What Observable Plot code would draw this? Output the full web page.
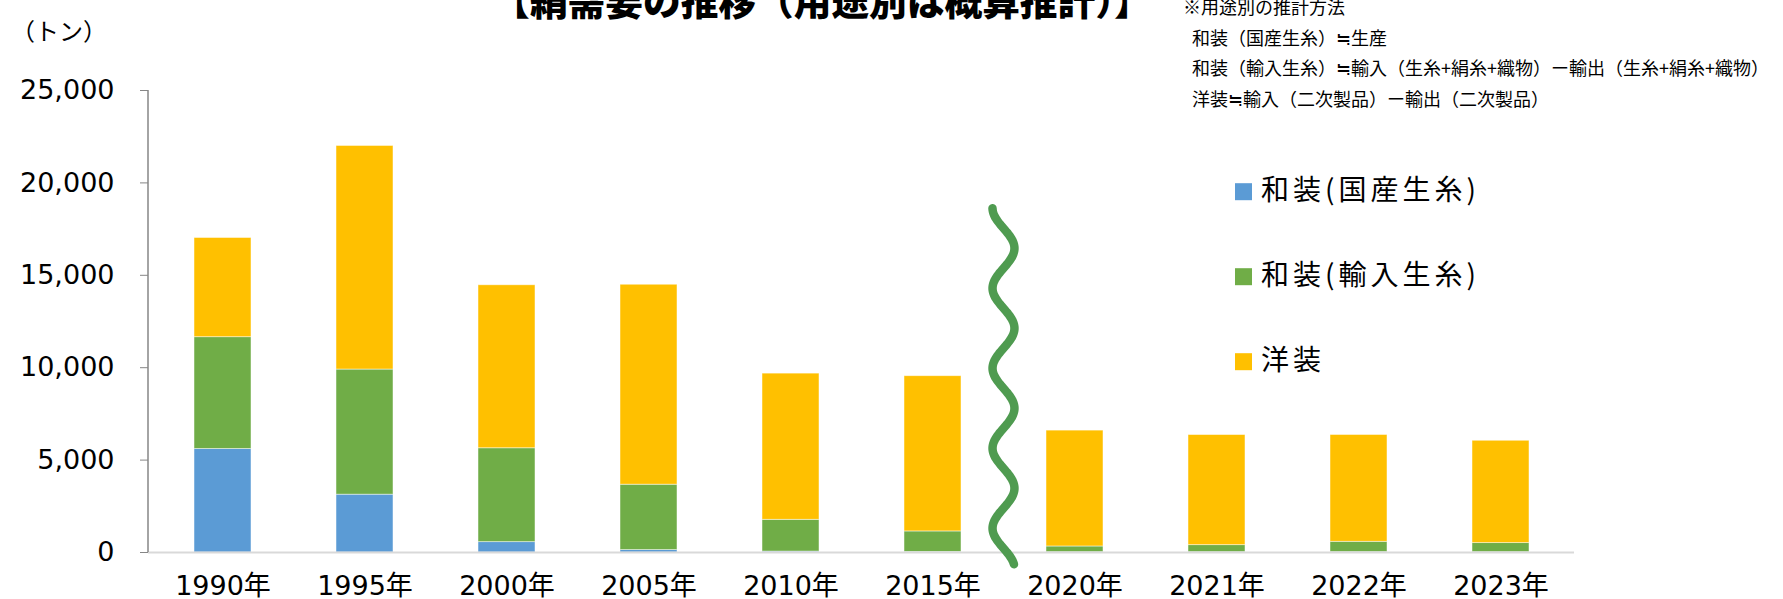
<!DOCTYPE html>
<html>
<head>
<meta charset="utf-8">
<script src="https://cdn.jsdelivr.net/npm/d3@7"></script>
<script src="https://cdn.jsdelivr.net/npm/@observablehq/plot@0.6"></script>
<style>
  html, body { margin: 0; padding: 0; background: #fff; }
  #chart { width: 1783px; height: 599px; overflow: hidden; }
</style>
</head>
<body>
<div id="chart"></div>
<script>
// ---- data ----
const years = ["1990年", "1995年", "2000年", "2005年", "2010年", "2015年", "2020年", "2021年", "2022年", "2023年"];
const seriesNames = ["和装(国産生糸)", "和装(輸入生糸)", "洋装"];
const domesticSilk = [5600, 3130, 560, 130, 50, 30, 16, 17, 20, 17];        // 和装(国産生糸)
const importedSilk = [6050, 6770, 5080, 3540, 1720, 1110, 310, 380, 560, 490]; // 和装(輸入生糸)
const westernWear  = [5370, 12100, 8820, 10820, 7910, 8400, 6270, 5960, 5780, 5540]; // 洋装
const yTicks = [0, 5000, 10000, 15000, 20000, 25000];
const yMax = 25000;
const titleText = "【絹需要の推移（用途別は概算推計）】";
const unitLabel = "（トン）";
const noteLines = [
  "※用途別の推計方法",
  "和装（国産生糸）≒生産",
  "和装（輸入生糸）≒輸入（生糸+絹糸+織物）ー輸出（生糸+絹糸+織物）",
  "洋装≒輸入（二次製品）ー輸出（二次製品）"
];
const colors = ["#5B9BD5", "#70AD47", "#FFC000"];
// break marker (wavy line) between 2015 and 2020, extent in data units
const breakAfter = "2015年", breakBefore = "2020年";
const waveTop = 18600, waveBottom = -700;

// ---- table ----
const seriesValues = [domesticSilk, importedSilk, westernWear];
const rows = seriesNames.flatMap((s, i) =>
  years.map((y, j) => ({year: y, series: s, value: seriesValues[i][j]})));

const W = 1783, H = 599;
const latinFont = '"DejaVu Sans", "Noto Sans CJK JP", sans-serif';
const cjkFont = '"Noto Sans CJK JP", "Noto Sans", sans-serif';

const chart = Plot.plot({
  width: W, height: H,
  marginLeft: 148, marginRight: 209, marginTop: 90, marginBottom: 47,
  style: {fontFamily: latinFont, fontSize: "27px", color: "#000", background: "#fff", overflow: "visible"},
  x: {domain: years, paddingInner: 0.6, paddingOuter: 0.3, label: null},
  y: {domain: [0, yMax], label: null},
  color: {domain: seriesNames, range: colors},
  marks: [
    Plot.barY(rows, {x: "year", y: "value", fill: "series", z: "series",
      stroke: "#ffffff", strokeWidth: 0.8, strokeOpacity: 0.6}),
    Plot.ruleY([0], {stroke: "#d9d9d9", strokeWidth: 2}),
    Plot.axisY({ticks: yTicks, tickFormat: d3.format(","), tickSize: 8, tickPadding: 26,
      stroke: "#868686", fill: "#000", label: null}),
    Plot.axisX({tickSize: 0, tickPadding: 23, fill: "#000", label: null})
  ]
});
document.getElementById("chart").appendChild(chart);

const sx = chart.scale("x"), sy = chart.scale("y");
const svg = d3.select(chart);

// y axis line
svg.append("line")
  .attr("x1", sx.range[0]).attr("x2", sx.range[0])
  .attr("y1", sy.apply(yMax)).attr("y2", sy.apply(0))
  .attr("stroke", "#868686").attr("stroke-width", 1.5);

// wavy break marker
{
  const cx = (sx.apply(breakAfter) + sx.apply(breakBefore)) / 2 + sx.bandwidth / 2;
  const y0 = sy.apply(waveTop), y1 = sy.apply(waveBottom);
  const amp = 11, period = 80;
  const pts = d3.range(y0, y1 + 0.01, 2).map(py => [cx - amp * Math.cos(2 * Math.PI * (py - y0) / period), py]);
  svg.append("path")
    .attr("d", d3.line().curve(d3.curveBasis)(pts))
    .attr("fill", "none").attr("stroke", "#4f9b50").attr("stroke-width", 8.5)
    .attr("stroke-linecap", "round").attr("stroke-linejoin", "round");
}

// title
svg.append("text").text(titleText)
  .attr("x", 822).attr("y", 15).attr("text-anchor", "middle")
  .attr("font-family", cjkFont).attr("font-weight", 900).attr("font-size", 37.7).attr("fill", "#000");

// unit label
svg.append("text").text(unitLabel)
  .attr("x", 11).attr("y", 40).attr("text-anchor", "start")
  .attr("font-family", cjkFont).attr("font-size", 24).attr("fill", "#000");

// notes
const noteX = [1183, 1192, 1192, 1192];
const noteY = [14, 45, 75, 106];
noteLines.forEach((t, i) => {
  svg.append("text").text(t)
    .attr("x", noteX[i]).attr("y", noteY[i]).attr("text-anchor", "start")
    .attr("font-family", cjkFont).attr("font-size", 18).attr("fill", "#000");
});

// legend (vertical)
const legend = svg.append("g").attr("text-anchor", "start");
seriesNames.forEach((s, i) => {
  const cy = 191.7 + i * 85;
  legend.append("rect").attr("x", 1235).attr("y", cy - 8.5).attr("width", 17).attr("height", 17)
    .attr("fill", colors[i]);
  legend.append("text").text(s)
    .attr("x", 1261).attr("y", cy + 8).attr("text-anchor", "start")
    .attr("font-family", cjkFont).attr("font-size", 28).attr("letter-spacing", 4).attr("fill", "#000");
});
</script>
</body>
</html>
